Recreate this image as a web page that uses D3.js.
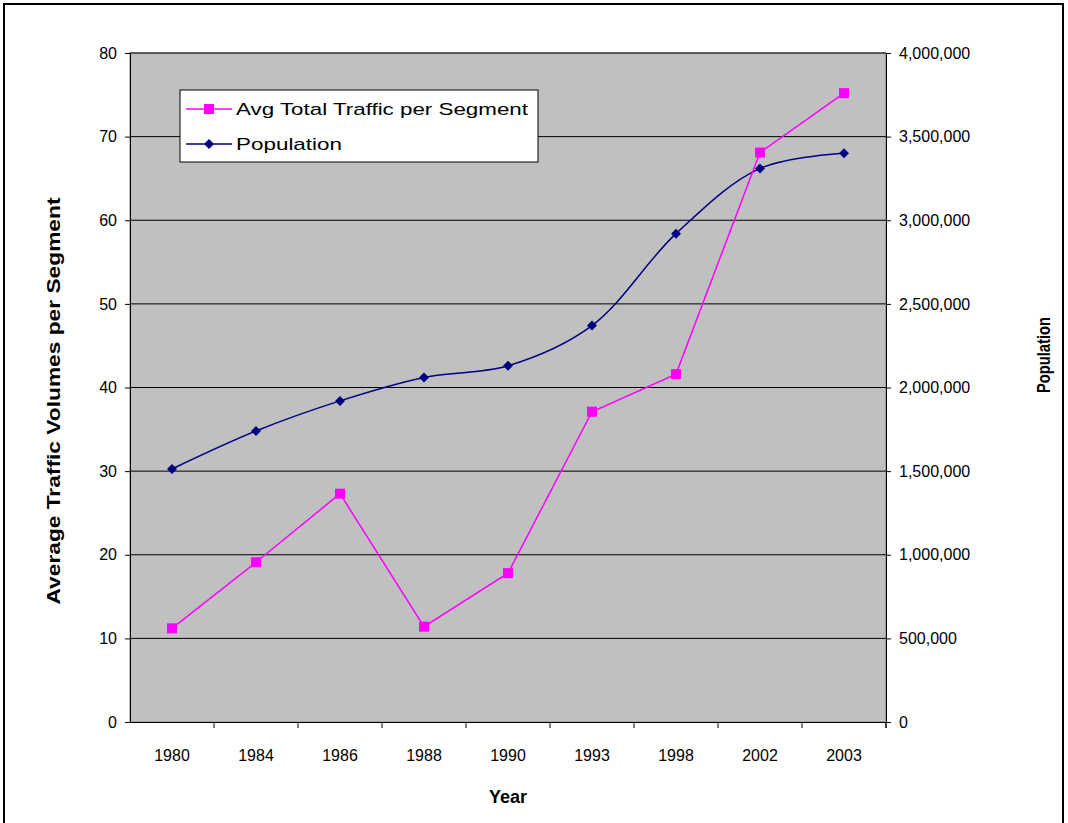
<html lang="en">
<head>
<meta charset="UTF-8">
<script src="https://d3js.org/d3.v7.min.js"></script>
<style>
body, html { margin: 0; padding: 0; background: white; overflow: hidden; }
svg { display: block; font-family: "Liberation Sans", Arial, sans-serif; }
</style>
</head>
<body>
<svg width="1068" height="823"></svg>
<script>
const years = ["1980", "1984", "1986", "1988", "1990", "1993", "1998", "2002", "2003"];
const traffic = [11.2, 19.1, 27.3, 11.4, 17.8, 37.1, 41.6, 68.1, 75.2];
const population = [1513000, 1740000, 1920000, 2060000, 2130000, 2370000, 2920000, 3310000, 3400000];
const leftTicks = [0, 10, 20, 30, 40, 50, 60, 70, 80];
const rightTicks = [0, 500000, 1000000, 1500000, 2000000, 2500000, 3000000, 3500000, 4000000];

const svg = d3.select("svg");
const m = { left: 130, right: 886, top: 53, bottom: 722 };

svg.append("rect").attr("x", 4).attr("y", 4).attr("width", 1059).attr("height", 830)
  .attr("fill", "white").attr("stroke", "black").attr("stroke-width", 2);

const x = d3.scaleBand().domain(years).range([m.left, m.right]);
const yL = d3.scaleLinear().domain([0, 80]).range([m.bottom, m.top]);
const yR = d3.scaleLinear().domain([0, 4000000]).range([m.bottom, m.top]);

svg.append("rect").attr("x", m.left).attr("y", m.top)
  .attr("width", m.right - m.left).attr("height", m.bottom - m.top)
  .attr("fill", "#c0c0c0").attr("stroke", "#808080");

svg.selectAll("line.grid").data(leftTicks.slice(1)).join("line")
  .attr("x1", m.left).attr("x2", m.right)
  .attr("y1", d => yL(d)).attr("y2", d => yL(d))
  .attr("stroke", "black").attr("stroke-width", 1);

const axL = svg.append("g").attr("transform", `translate(${m.left},0)`)
  .call(d3.axisLeft(yL).tickValues(leftTicks).tickSize(5).tickPadding(8));
const axR = svg.append("g").attr("transform", `translate(${m.right},0)`)
  .call(d3.axisRight(yR).tickValues(rightTicks).tickSize(5).tickPadding(8).tickFormat(d3.format(",")));
const axB = svg.append("g").attr("transform", `translate(0,${m.bottom})`)
  .call(d3.axisBottom(x).tickSize(0).tickPadding(28));
axB.selectAll(".tick").append("line")
  .attr("x1", x.bandwidth() / 2).attr("x2", x.bandwidth() / 2).attr("y1", 0).attr("y2", 6).attr("stroke", "black");
axB.append("line").attr("x1", m.right).attr("x2", m.right).attr("y1", 0).attr("y2", 6).attr("stroke", "black");
[axL, axR, axB].forEach(a => {
  a.selectAll("text").attr("font-size", 16).attr("fill", "black").attr("font-family", "Liberation Sans, Arial, sans-serif");
  a.select(".domain").attr("stroke", "black");
});

const cx = d => x(d) + x.bandwidth() / 2;

const popLine = d3.line().x((d, i) => cx(years[i])).y(d => yR(d)).curve(d3.curveCatmullRom.alpha(0.5));
svg.append("path").attr("d", popLine(population)).attr("fill", "none").attr("stroke", "#000080").attr("stroke-width", 1.5);
const trLine = d3.line().x((d, i) => cx(years[i])).y(d => yL(d));
svg.append("path").attr("d", trLine(traffic)).attr("fill", "none").attr("stroke", "#ff00ff").attr("stroke-width", 1.5);

svg.selectAll("rect.tr").data(traffic).join("rect")
  .attr("x", (d, i) => cx(years[i]) - 5).attr("y", d => yL(d) - 5)
  .attr("width", 10).attr("height", 10).attr("fill", "#ff00ff");
svg.selectAll("path.pop").data(population).join("path")
  .attr("d", (d, i) => `M${cx(years[i])},${yR(d) - 5}l5,5l-5,5l-5,-5z`).attr("fill", "#000080");

// legend
const lg = svg.append("g").attr("transform", "translate(180,90)");
lg.append("rect").attr("width", 358).attr("height", 72).attr("fill", "white").attr("stroke", "black");
lg.append("line").attr("x1", 6).attr("x2", 52).attr("y1", 19).attr("y2", 19).attr("stroke", "#ff00ff").attr("stroke-width", 1.5);
lg.append("rect").attr("x", 24).attr("y", 14).attr("width", 10).attr("height", 10).attr("fill", "#ff00ff");
lg.append("text").attr("x", 56).attr("y", 25).attr("font-size", 17).attr("textLength", 292).attr("lengthAdjust", "spacingAndGlyphs").text("Avg Total Traffic per Segment");
lg.append("line").attr("x1", 6).attr("x2", 52).attr("y1", 54).attr("y2", 54).attr("stroke", "#000080").attr("stroke-width", 1.5);
lg.append("path").attr("d", "M29,49l5,5l-5,5l-5,-5z").attr("fill", "#000080");
lg.append("text").attr("x", 56).attr("y", 60).attr("font-size", 17).attr("textLength", 106).attr("lengthAdjust", "spacingAndGlyphs").text("Population");

svg.append("text").attr("x", (m.left + m.right) / 2).attr("y", 803).attr("text-anchor", "middle")
  .attr("font-size", 18).attr("font-weight", "bold").text("Year");
svg.append("text").attr("transform", `translate(60,401) rotate(-90)`).attr("text-anchor", "middle")
  .attr("font-size", 18).attr("font-weight", "bold").attr("textLength", 407).attr("lengthAdjust", "spacingAndGlyphs").text("Average Traffic Volumes per Segment");
svg.append("text").attr("transform", `translate(1050,355) rotate(-90)`).attr("text-anchor", "middle")
  .attr("font-size", 18).attr("font-weight", "bold").attr("textLength", 76).attr("lengthAdjust", "spacingAndGlyphs").text("Population");
</script>
</body>
</html>
